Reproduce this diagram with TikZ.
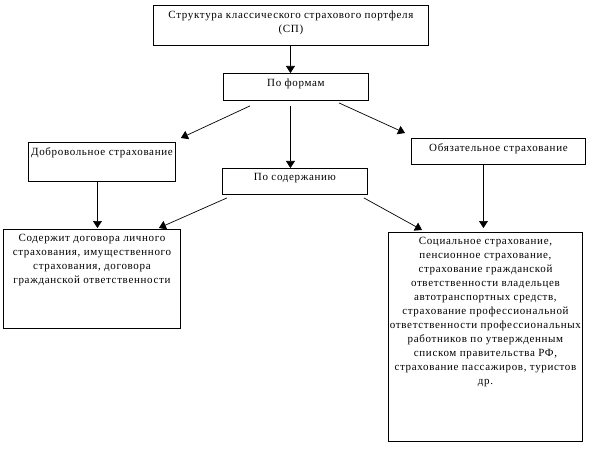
\documentclass[tikz,border=0pt]{standalone}
\usepackage{fontspec}
\setmainfont{Liberation Serif}[LetterSpace=6]
\usepackage{tikz}
\usetikzlibrary{arrows.meta, positioning, calc}

% text block set at the top of a frame of given width and height
\newcommand{\framedtext}[3]{\parbox[c][#2][t]{#1}{\centering\vspace{5pt}#3}}

\begin{document}
\begin{tikzpicture}[x=1pt, y=-1pt,
		box/.style={draw, line width=0.9pt, inner sep=0pt, anchor=north west, font=\fontsize{11}{14}\selectfont},
		arr/.style={-{Triangle[length=7pt, width=9pt]}, line width=0.7pt}]
	\useasboundingbox[fill=white] (0,0) rectangle (591,449);
	% levels
	\node[box] (top) at (153,5) {\framedtext{275pt}{40pt}{Структура классического страхового портфеля\\(СП)}};
	\node[box] (forms) at (223,73) {\framedtext{145pt}{27pt}{По формам}};
	\node[box] (vol) at (28,142) {\framedtext{147pt}{39pt}{Добровольное страхование}};
	\node[box] (oblig) at (411,138) {\framedtext{174pt}{26pt}{Обязательное страхование}};
	\node[box] (content) at (222,168) {\framedtext{145pt}{26pt}{По содержанию}};
	\node[box] (volc) at (3,229) {\framedtext{177pt}{99pt}{Содержит договора личного\\страхования, имущественного\\страхования, договора\\гражданской ответственности}};
	\node[box] (oblc) at (388,232) {\framedtext{194pt}{209pt}{Социальное страхование,\\пенсионное страхование,\\страхование гражданской\\ответственности владельцев\\автотранспортных средств,\\страхование профессиональной\\ответственности профессиональных\\работников по утвержденным\\списком правительства РФ,\\страхование пассажиров, туристов\\др.}};
	% connectors
	\draw[arr] ([xshift=-0.5pt]top.south) -- ([xshift=-0.5pt]top.south |- forms.north);
	\draw[arr] ([xshift=27pt, yshift=-5pt]forms.south west) -- ([xshift=5pt, yshift=4pt]vol.north east);
	\draw[arr] ([xshift=-5.5pt, yshift=-5pt]forms.south) -- ([xshift=-5.5pt]forms.south |- content.north);
	\draw[arr] ([xshift=-30pt, yshift=-2pt]forms.south east) -- ([xshift=-6pt, yshift=5pt]oblig.north west);
	\draw[arr] ([xshift=-4.5pt]vol.south) -- ([xshift=-4.5pt, yshift=1pt]vol.south |- volc.north);
	\draw[arr] ([xshift=5pt, yshift=-3pt]content.south west) -- ([xshift=-22pt, yshift=1pt]volc.north east);
	\draw[arr] ([xshift=-4pt, yshift=-3pt]content.south east) -- ([xshift=34pt, yshift=2pt]oblc.north west);
	\draw[arr] ([xshift=-15pt]oblig.south) -- ([xshift=-15pt, yshift=4pt]oblig.south |- oblc.north);
\end{tikzpicture}
\end{document}
